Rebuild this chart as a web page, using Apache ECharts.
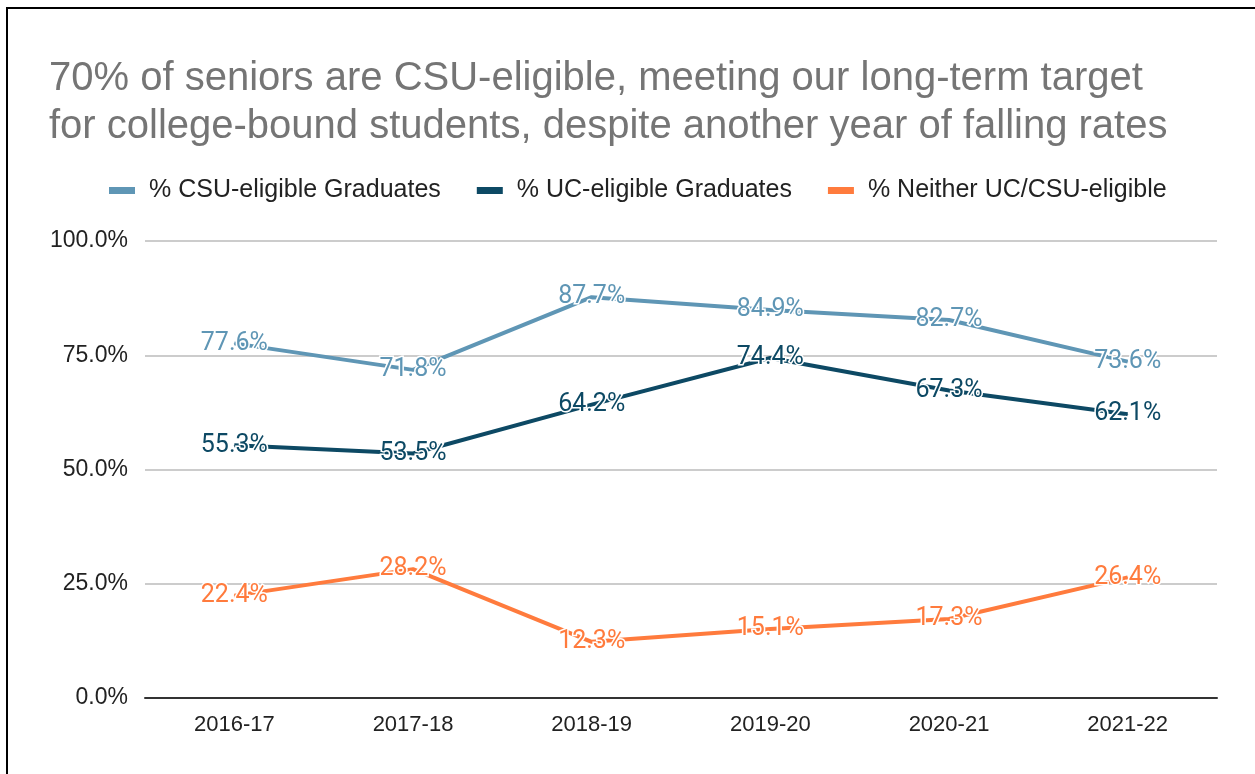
<!DOCTYPE html>
<html>
<head>
<meta charset="utf-8">
<script src="https://cdn.jsdelivr.net/npm/echarts@6/dist/echarts.min.js"></script>
<style>
  html, body { margin: 0; padding: 0; background: #fff; }
  #frame { position: absolute; left: 6px; top: 7px; width: 1249px; height: 767px;
           border-left: 2px solid #000; border-top: 2px solid #000; box-sizing: border-box; }
  #chart { position: absolute; left: 0; top: 0; width: 1255px; height: 774px; }
</style>
</head>
<body>
<div id="frame"></div>
<div id="chart"></div>
<script>
"use strict";
const years = ['2016-17', '2017-18', '2018-19', '2019-20', '2020-21', '2021-22'];
const csuPct = [77.6, 71.8, 87.7, 84.9, 82.7, 73.6];
const ucPct = [55.3, 53.5, 64.2, 74.4, 67.3, 62.1];
const neitherPct = [22.4, 28.2, 12.3, 15.1, 17.3, 26.4];
const seriesNames = ['% CSU-eligible Graduates', '% UC-eligible Graduates', '% Neither UC/CSU-eligible'];
const colors = ['#5f96b5', '#0d4964', '#ff7b3d'];

const chart = echarts.init(document.getElementById('chart'));

// line with a value label centred on every point
const mkSeries = function (name, data, color) {
  return {
    name: name,
    type: 'line',
    data: data,
    symbol: 'circle',
    symbolSize: 1,
    showSymbol: true,
    lineStyle: { color: color, width: 4 },
    itemStyle: { color: color },
    label: {
      show: true,
      position: 'inside',
      formatter: p => p.value.toFixed(1) + '%',
      color: color,
      fontFamily: 'Roboto',
      fontSize: 25,
      textBorderColor: '#fff',
      textBorderWidth: 3
    }
  };
};

chart.setOption({
  animation: false,
  title: {
    text: '70% of seniors are CSU-eligible, meeting our long-term target\nfor college-bound students, despite another year of falling rates',
    left: 44,
    top: 50,
    textStyle: { color: '#757575', fontFamily: 'Liberation Sans', fontSize: 40, fontWeight: 'normal', lineHeight: 48 }
  },
  legend: {
    top: 173,
    left: 104,
    itemWidth: 26,
    itemHeight: 7,
    itemGap: 36,
    icon: 'rect',
    textStyle: { color: '#222', fontFamily: 'Liberation Sans', fontSize: 25, padding: [0, 0, 0, 9] },
    data: seriesNames.map((n, i) => ({ name: n, itemStyle: { color: colors[i] } }))
  },
  grid: { left: 145, right: 38, top: 241, bottom: 76, containLabel: false },
  xAxis: {
    type: 'category',
    data: years,
    boundaryGap: true,
    axisLine: { lineStyle: { color: '#333', width: 2 } },
    axisTick: { show: false },
    axisLabel: { color: '#222', fontFamily: 'Liberation Sans', fontSize: 22, margin: 16 }
  },
  yAxis: {
    type: 'value',
    min: 0,
    max: 100,
    interval: 25,
    axisLine: { show: false },
    axisTick: { show: false },
    axisLabel: { color: '#222', fontFamily: 'Liberation Sans', fontSize: 23, margin: 17, formatter: v => v.toFixed(1) + '%' },
    splitLine: { lineStyle: { color: '#cccccc', width: 2 } }
  },
  series: [
    mkSeries(seriesNames[0], csuPct, colors[0]),
    mkSeries(seriesNames[1], ucPct, colors[1]),
    mkSeries(seriesNames[2], neitherPct, colors[2])
  ]
});
</script>
</body>
</html>
